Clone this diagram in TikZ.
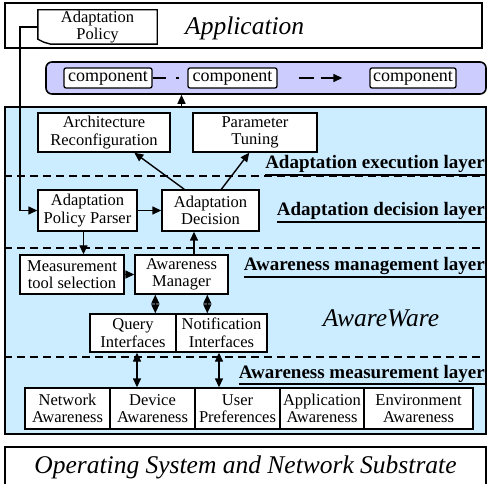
\documentclass[tikz,border=0pt]{standalone}
\usepackage{fontspec}
\setmainfont{Liberation Serif}
\usetikzlibrary{arrows.meta,calc}
\definecolor{awblue}{RGB}{204,236,255}
\definecolor{bandblue}{RGB}{204,204,255}
\newcommand\nf{\fontsize{16.5}{17.5}\selectfont}
\newcommand\lf{\fontsize{19}{20}\selectfont\bfseries}
\newcommand\bigit{\fontsize{25.5}{28}\selectfont\itshape}
\newcommand\cf{\fontsize{18}{18}\selectfont}
\newcommand\layul[1]{\vtop{\hbox{#1}\kern1.2pt\hrule height 1.3pt}}
\begin{document}
\begin{tikzpicture}[x=1pt,y=-1pt,
  bigbox/.style={draw, line width=1.6pt, inner sep=0pt},
  box/.style={draw, line width=1.4pt, fill=white, inner sep=0pt, align=center, font=\nf},
  comp/.style={draw, line width=1.3pt, fill=white, rounded corners=2pt, inner sep=0pt, font=\cf, minimum width=#1, minimum height=20pt},
  lay/.style={font=\lf, inner sep=0pt, anchor=base east},
  bigtext/.style={font=\bigit, inner sep=0pt},
  arr/.style={-{Triangle[length=9pt,width=8pt]}, line width=1.4pt},
  darr/.style={{Triangle[length=9pt,width=8pt]}-{Triangle[length=9pt,width=8pt]}, line width=1.4pt},
  dline/.style={line width=1.4pt, dash pattern=on 8pt off 5pt}
]
\useasboundingbox (0,0) rectangle (488,484);
\clip (0,0) rectangle (488,484);

% big boxes
\node[bigbox, minimum width=477pt, minimum height=45pt] (app) at (243.5,25.5) {};
\node[bigbox, fill=bandblue, rounded corners=6pt, minimum width=440pt, minimum height=32pt] (band) at (266,78) {};
\node[bigbox, fill=awblue, minimum width=481pt, minimum height=327pt] (aw) at (245.5,270.5) {};
\node[bigbox, minimum width=481pt, minimum height=40pt, font=\bigit] (os) at (245.5,467) {Operating System and Network Substrate};

\node[bigtext, anchor=west] (apptext) at (185,28) {Application};
\node[bigtext] (awtext) at (381,318) {AwareWare};

% adaptation policy (document shape)
\node[inner sep=0pt, align=center, font=\nf, minimum width=119pt, minimum height=34pt] (ap) at (97.5,27) {Adaptation\\Policy};
\draw[line width=1.4pt] (ap.north west) -- (ap.north east) -- (ap.south east) -- ([xshift=13pt]ap.south west)
  -- ([xshift=6pt,yshift=2pt]ap.south west) -- ([yshift=5pt]ap.south west) -- cycle;

% components
\node[comp=88pt] (c1) at (108,78) {component};
\node[comp=89pt] (c2) at (232.5,78) {component};
\node[comp=86pt] (c3) at (413,78) {component};
\draw[line width=1.4pt, dash pattern=on 13pt off 10pt on 3pt off 20pt] (c1.east) -- (c2.west);
\draw[arr, shorten >=27pt, dash pattern=on 0pt off 21pt on 15pt off 7pt on 200pt] (c2.east) -- (c3.west);

% layer dividers
\draw[dline] (aw.west |- 0,176) -- (aw.east |- 0,176);
\draw[dline] (aw.west |- 0,248) -- (aw.east |- 0,248);
\draw[dline] (aw.west |- 0,357) -- (aw.east |- 0,357);

% layer labels
\node[lay] (lexec) at (485,169) {\layul{Adaptation execution layer}};
\node[lay] (ldec) at (485,216) {\layul{Adaptation decision layer}};
\node[lay] (lmgmt) at (485,271) {\layul{Awareness management layer}};
\node[lay] (lmeas) at (485,378) {\layul{Awareness measurement layer}};

% inner nodes
\node[box, minimum width=132pt, minimum height=39pt] (arch) at (104,132.5) {Architecture\\Reconfiguration};
\node[box, minimum width=124pt, minimum height=39pt] (param) at (255,132.5) {Parameter\\Tuning};
\node[box, minimum width=99pt, minimum height=41pt] (parser) at (87.5,210.5) {Adaptation\\Policy Parser};
\node[box, minimum width=97pt, minimum height=41pt] (dec) at (210.5,210.5) {Adaptation\\Decision};
\node[box, minimum width=104pt, minimum height=39pt] (meas) at (72,274.5) {Measurement\\tool selection};
\node[box, minimum width=93pt, minimum height=39pt] (mgr) at (181.5,274.5) {Awareness\\Manager};
\node[box, minimum width=86pt, minimum height=38pt] (query) at (133,333) {Query\\Interfaces};
\node[box, minimum width=91pt, minimum height=38pt] (notif) at (221.5,333) {Notification\\Interfaces};

\node[box, minimum width=85pt, minimum height=41pt] (net) at (67.5,408.5) {Network\\Awareness};
\node[box, minimum width=85pt, minimum height=41pt] (dev) at (152.5,408.5) {Device\\Awareness};
\node[box, minimum width=85pt, minimum height=41pt] (user) at (237.5,408.5) {User\\Preferences};
\node[box, minimum width=84pt, minimum height=41pt] (appaw) at (322,408.5) {Application\\Awareness};
\node[box, minimum width=109pt, minimum height=41pt] (env) at (418.5,408.5) {Environment\\Awareness};

% connectors
\coordinate (bend) at (20,27);
\draw[arr] (ap.west) -- (bend) |- (parser.west);
\draw[arr] (mgr |- aw.north) -- (mgr |- band.south);
\draw[arr] ([xshift=23pt]dec.north west) -- ([xshift=97pt]arch.south west);
\draw[arr] ([xshift=60pt]dec.north west) -- ([xshift=57pt]param.south west);
\draw[arr] (parser.east) -- (dec.west);
\draw[arr] ([xshift=-4pt]parser.south) -- ([xshift=-4pt]parser.south |- meas.north);
\draw[arr] ([xshift=-16.5pt]dec.south |- mgr.north) -- ([xshift=-16.5pt]dec.south);
\draw[arr] (meas.east) -- (mgr.west);
\draw[darr] ([xshift=21pt]mgr.south west) -- ([xshift=21pt]mgr.south west |- query.north);
\draw[darr] ([xshift=73pt]mgr.south west) -- ([xshift=73pt]mgr.south west |- notif.north);
\draw[darr] ([xshift=4pt]query.south) -- ([xshift=4pt]query.south |- dev.north);
\draw[darr] ([xshift=-2.5pt]notif.south) -- ([xshift=-2.5pt]notif.south |- user.north);
\end{tikzpicture}
\end{document}
